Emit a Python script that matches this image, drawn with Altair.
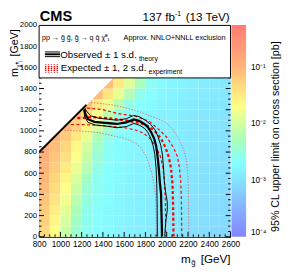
import altair as alt
import pandas as pd

FONT = "Liberation Sans"

# ---------------- heat map: log10(95% CL upper limit [pb]) in 100 GeV cells ----------------
lsp_row_lo = [0, 100, 200, 300, 400, 500, 600, 700, 800, 900, 1000, 1100, 1200, 1300, 1400]
row_first_mg = [800, 800, 800, 800, 800, 800, 800, 800, 800, 900, 1000, 1100, 1200, 1300, 1400]
row_log_limits = [
    [-1.32, -1.70, -2.05, -2.42, -2.62, -2.70, -2.76, -2.81, -2.85, -2.89, -2.92, -2.95, -2.98, -3.01, -3.04, -3.07, -3.09, -3.11],
    [-1.26, -1.62, -1.97, -2.36, -2.60, -2.69, -2.75, -2.80, -2.84, -2.88, -2.91, -2.94, -2.97, -3.00, -3.03, -3.06, -3.08, -3.10],
    [-1.20, -1.53, -1.88, -2.27, -2.57, -2.67, -2.74, -2.79, -2.83, -2.87, -2.90, -2.93, -2.96, -2.99, -3.02, -3.05, -3.07, -3.09],
    [-1.14, -1.45, -1.79, -2.17, -2.52, -2.65, -2.72, -2.78, -2.82, -2.86, -2.89, -2.92, -2.95, -2.98, -3.01, -3.04, -3.06, -3.08],
    [-1.08, -1.37, -1.70, -2.06, -2.44, -2.63, -2.71, -2.77, -2.81, -2.85, -2.88, -2.91, -2.94, -2.97, -3.00, -3.03, -3.05, -3.07],
    [-1.03, -1.30, -1.60, -1.95, -2.34, -2.61, -2.70, -2.76, -2.80, -2.84, -2.87, -2.90, -2.93, -2.96, -2.99, -3.02, -3.04, -3.06],
    [-0.98, -1.22, -1.50, -1.82, -2.20, -2.56, -2.68, -2.74, -2.79, -2.83, -2.86, -2.89, -2.92, -2.95, -2.98, -3.01, -3.03, -3.05],
    [-0.93, -1.15, -1.40, -1.72, -2.08, -2.46, -2.65, -2.72, -2.78, -2.82, -2.85, -2.88, -2.91, -2.94, -2.97, -3.00, -3.02, -3.04],
    [-0.88, -1.08, -1.30, -1.62, -1.98, -2.38, -2.62, -2.71, -2.77, -2.81, -2.84, -2.87, -2.90, -2.93, -2.96, -2.99, -3.01, -3.03],
    [-1.00, -1.20, -1.48, -1.85, -2.24, -2.55, -2.68, -2.75, -2.80, -2.83, -2.86, -2.89, -2.92, -2.95, -2.98, -3.00, -3.02],
    [-1.05, -1.30, -1.60, -1.98, -2.38, -2.62, -2.71, -2.77, -2.81, -2.85, -2.88, -2.91, -2.94, -2.97, -2.99, -3.01],
    [-1.08, -1.40, -1.75, -2.15, -2.50, -2.66, -2.74, -2.79, -2.83, -2.87, -2.90, -2.93, -2.96, -2.98, -3.00],
    [-1.10, -1.48, -1.82, -2.20, -2.55, -2.68, -2.75, -2.80, -2.84, -2.88, -2.91, -2.94, -2.96, -2.98],
    [-1.10, -1.45, -1.85, -2.22, -2.58, -2.70, -2.77, -2.82, -2.86, -2.89, -2.92, -2.94, -2.96],
    [-1.08, -1.50, -1.90, -2.30, -2.62, -2.72, -2.78, -2.83, -2.87, -2.90, -2.92, -2.94],
]
CELL = 100

# ---------------- contours (m_gluino, m_LSP) ----------------
obs_mg = [1225, 1235, 1260, 1320, 1420, 1531, 1620, 1690, 1740, 1790, 1821, 1855, 1881, 1900, 1912, 1925, 1935, 1947, 1950, 1954, 1956]
obs_lsp = [1205, 1160, 1110, 1085, 1075, 1065, 1080, 1108, 1095, 1065, 1037, 985, 930, 860, 777, 650, 520, 400, 250, 100, 0]
obs_m1_mg = [1220, 1230, 1260, 1330, 1430, 1531, 1620, 1690, 1740, 1790, 1820, 1850, 1872, 1888, 1900, 1906, 1910, 1912]
obs_m1_lsp = [1195, 1130, 1080, 1055, 1045, 1030, 1040, 1070, 1055, 1025, 990, 930, 860, 780, 650, 500, 300, 0]
obs_p1_mg = [1230, 1250, 1290, 1360, 1450, 1531, 1620, 1690, 1740, 1800, 1850, 1890, 1920, 1945, 1960, 1970, 1978, 1990, 2005, 2005, 1992, 1984, 1982]
obs_p1_lsp = [1215, 1180, 1140, 1120, 1110, 1100, 1115, 1145, 1135, 1100, 1060, 1010, 940, 860, 770, 650, 520, 420, 330, 250, 150, 50, 0]
exp_mg = [1160, 1300, 1450, 1600, 1750, 1836, 1900, 1950, 1990, 2020, 2040, 2054, 2060, 2064]
exp_lsp = [1120, 1130, 1120, 1100, 1075, 1040, 985, 920, 840, 750, 650, 500, 300, 0]
exp_m1_mg = [1100, 1200, 1300, 1400, 1500, 1600, 1700, 1780, 1840, 1900, 1940, 1965, 1980, 1988, 1990]
exp_m1_lsp = [1060, 1060, 1055, 1048, 1040, 1030, 1010, 980, 930, 850, 760, 650, 500, 300, 0]
exp_p1_mg = [1250, 1400, 1531, 1700, 1836, 1930, 2000, 2060, 2100, 2120, 2133, 2139, 2141]
exp_p1_lsp = [1215, 1200, 1165, 1140, 1090, 1010, 940, 850, 760, 650, 500, 300, 0]
exp_m2_mg = [1040, 1100, 1200, 1300, 1400, 1531, 1600, 1700, 1760, 1800, 1830, 1860, 1880, 1893, 1900, 1903]
exp_m2_lsp = [1005, 1003, 998, 990, 975, 945, 930, 890, 840, 770, 700, 600, 500, 400, 200, 0]
exp_p2_mg = [1290, 1450, 1531, 1714, 1850, 1988, 2060, 2110, 2160, 2187, 2200, 2205, 2208]
exp_p2_lsp = [1268, 1250, 1237, 1191, 1140, 1083, 1010, 930, 820, 716, 550, 350, 0]

diag_mg = [800, 1245]
diag_lsp = [800, 1245]

x_ticks = list(range(800, 2601, 200))
y_ticks = list(range(0, 2001, 200))
x_minor = [v for v in range(800, 2601, 50) if v % 200 != 0]
y_minor = [v for v in range(0, 1501, 50) if v % 200 != 0]
y_major_vis = [v for v in y_ticks if v <= 1500]

cbar_log = [-4.0, -3.5, -3.0, -2.7, -2.3, -2.0, -1.7, -1.3, -1.0, -0.26]
cbar_col = ["#8585ff", "#85b0ff", "#85e4ff", "#85ffff", "#a8ffbc", "#d2ffa0",
            "#ffff88", "#ffd67c", "#ffb47a", "#ff7a74"]
cbar_ticks = [1e-4, 1e-3, 1e-2, 1e-1]

# ---------------- build tables ----------------
cells = []
for lo, first, vals in zip(lsp_row_lo, row_first_mg, row_log_limits):
    for i, v in enumerate(vals):
        m0 = first + CELL * i
        cells.append({"mg": m0, "mg2": m0 + CELL, "lsp": lo, "lsp2": lo + CELL, "limit": 10 ** v})
heat_df = pd.DataFrame(cells)


def line_df(mg, lsp):
    return pd.DataFrame({"mg": mg, "lsp": lsp, "o": list(range(len(mg)))})


W, H = 197, 218
xs = alt.Scale(domain=[800, 2600], nice=False, zero=False)
ys = alt.Scale(domain=[0, 2000], nice=False, zero=False)
cscale = alt.Scale(type="log", domain=[10 ** v for v in cbar_log], range=cbar_col, interpolate="rgb")

xaxis = alt.Axis(values=x_ticks, format="d", title=None, ticks=False, grid=False, labelFontSize=8.5,
                 labelFont=FONT, labelColor="black", labelPadding=3, domainColor="black",
                 labelOverlap=False, labelFlush=False, labelBound=False)
yaxis = alt.Axis(values=y_ticks, format="d", title=None, ticks=False, grid=False, labelFontSize=8,
                 labelFont=FONT, labelColor="black", labelPadding=2.5, domainColor="black",
                 labelOverlap=False, labelFlush=False, labelBound=False)


def X(f):
    return alt.X(f, scale=xs, axis=xaxis)


def Y(f):
    return alt.Y(f, scale=ys, axis=yaxis)


label_expr = ("datum.value < 0.0005 ? '10\u207b\u2074' : datum.value < 0.005 ? '10\u207b\u00b3' : "
              "datum.value < 0.05 ? '10\u207b\u00b2' : '10\u207b\u00b9'")

heat = alt.Chart(heat_df).mark_rect().encode(
    x=X("mg:Q"),
    x2="mg2:Q",
    y=Y("lsp:Q"),
    y2="lsp2:Q",
    color=alt.Color("limit:Q", scale=cscale,
                    legend=alt.Legend(type="gradient", orient="none", legendX=198, legendY=0,
                                      direction="vertical", gradientLength=H, gradientThickness=15,
                                      title=None, values=cbar_ticks, labelExpr=label_expr,
                                      labelFont=FONT, labelFontSize=8.5, labelColor="black",
                                      labelOffset=5, padding=0, gradientStrokeWidth=0)),
)

mask_df = pd.DataFrame({"mg": [800, 2000], "lsp": [800, 2000], "top": [2000, 2000]})
mask = alt.Chart(mask_df).mark_area(color="white", opacity=1).encode(
    x=X("mg:Q"), y=Y("lsp:Q"), y2="top:Q")


def contour(mg, lsp, color, width, dash=None, opacity=1.0):
    kw = dict(color=color, strokeWidth=width, opacity=opacity, clip=True)
    if dash:
        kw["strokeDash"] = dash
    return alt.Chart(line_df(mg, lsp)).mark_line(**kw).encode(
        x=X("mg:Q"), y=Y("lsp:Q"), order="o:Q")


lines = [
    contour(exp_m2_mg, exp_m2_lsp, "#e06a6a", 1.0, [1.5, 1.5], 0.85),
    contour(exp_p2_mg, exp_p2_lsp, "#e06a6a", 1.0, [1.5, 1.5], 0.85),
    contour(exp_m1_mg, exp_m1_lsp, "#ff0000", 1.2, [3, 2.5]),
    contour(exp_p1_mg, exp_p1_lsp, "#ff0000", 1.2, [3, 2.5]),
    contour(exp_mg, exp_lsp, "#ff0000", 2.3, [3, 2.5]),
    contour(obs_m1_mg, obs_m1_lsp, "black", 1.0),
    contour(obs_p1_mg, obs_p1_lsp, "black", 1.0),
    contour(obs_mg, obs_lsp, "black", 2.3),
    contour(diag_mg, diag_lsp, "black", 2.0),
]

one = pd.DataFrame({"a": [0]})


def vrule_ticks(vals, y0, y1):
    return alt.Chart(pd.DataFrame({"v": vals})).mark_rule(color="black", strokeWidth=1).encode(
        x=X("v:Q"), y=alt.value(y0), y2=alt.value(y1))


def hrule_ticks(vals, x0, x1):
    return alt.Chart(pd.DataFrame({"v": vals})).mark_rule(color="black", strokeWidth=1).encode(
        y=Y("v:Q"), x=alt.value(x0), x2=alt.value(x1))


ticks = [
    vrule_ticks(x_ticks, H, H - 5), vrule_ticks(x_minor, H, H - 2.5),
    hrule_ticks(y_major_vis, 0, 5), hrule_ticks(y_minor, 0, 2.5),
    hrule_ticks(y_major_vis, W, W - 5), hrule_ticks(y_minor, W, W - 2.5),
]

box = alt.Chart(one).mark_rect(fill="white", stroke="black", strokeWidth=1).encode(
    x=alt.value(0), x2=alt.value(W), y=alt.value(0.5), y2=alt.value(54.5))


def seg(x0, x1, y, color, width, dash=None, opacity=1.0):
    kw = dict(color=color, strokeWidth=width, opacity=opacity)
    if dash:
        kw["strokeDash"] = dash
    return alt.Chart(one).mark_rule(**kw).encode(x=alt.value(x0), x2=alt.value(x1), y=alt.value(y))


def txt(s, x, y, size, align="left", angle=0, weight="normal", baseline="alphabetic"):
    return alt.Chart(one).mark_text(text=s, align=align, baseline=baseline, fontSize=size, font=FONT,
                                    fontWeight=weight, angle=angle, color="black").encode(
        x=alt.value(x), y=alt.value(y))


legend_items = [
    seg(6, 21.5, 27.8, "black", 1.0), seg(6, 21.5, 30.2, "black", 2.0), seg(6, 21.5, 32.6, "black", 1.0),
    seg(6, 20, 40.8, "#e06a6a", 1.2, [1.5, 1.5]), seg(6, 20, 42.8, "#ff0000", 1.2, [1.5, 1.5]),
    seg(6, 20, 44.8, "#ff0000", 1.8, [1.5, 1.5]), seg(6, 20, 46.8, "#ff0000", 1.2, [1.5, 1.5]),
    seg(6, 20, 48.8, "#e06a6a", 1.2, [1.5, 1.5]),
    txt("pp \u2192 g\u0303 g\u0303, g\u0303 \u2192 q q\u0304 \u03c7\u0303\u2070\u2081", 3, 15, 7.3),
    txt("Approx. NNLO+NNLL exclusion", 192, 15, 7.5, align="right"),
    txt("Observed \u00b1 1 s.d.", 21.7, 34.2, 10),
    txt("theory", 102.7, 36.8, 7),
    txt("Expected \u00b1 1, 2 s.d.", 22.3, 47.5, 10),
    txt("experiment", 112.7, 50.8, 7),
]

annotations = [
    txt("CMS", 0.7, -4.2, 15, weight="bold"),
    txt(" (13 TeV)", 196, -4, 12, align="right"),
    txt("-1", 146, -9, 7, align="right"),
    txt("137 fb", 139.8, -4, 12, align="right"),
    txt("[GeV]", W, 244.5, 12, align="right"),
    txt("g\u0303", 156.5, 247.5, 8),
    txt("m", 156, 244.5, 12, align="right"),
    txt("m", -21.5, 53.5, 11, angle=270),
    txt("\u03c7\u0303\u2070\u2081", -18.5, 44, 6.5, angle=270),
    txt("[GeV]", -21.5, 32.5, 11, angle=270),
    txt("95% CL upper limit on cross section [pb]", 246.5, 115, 11, align="center", angle=270),
]

chart = alt.layer(heat, mask, *lines, *ticks, box, *legend_items, *annotations).properties(
    width=W, height=H,
    autosize=alt.AutoSizeParams(type="none"),
    padding={"left": 32, "top": 13.5, "right": 54, "bottom": 39.5},
).configure_view(stroke="black", strokeWidth=1).configure(background="white")

chart.save("out.html", embed_options={"renderer": "svg", "actions": False})
